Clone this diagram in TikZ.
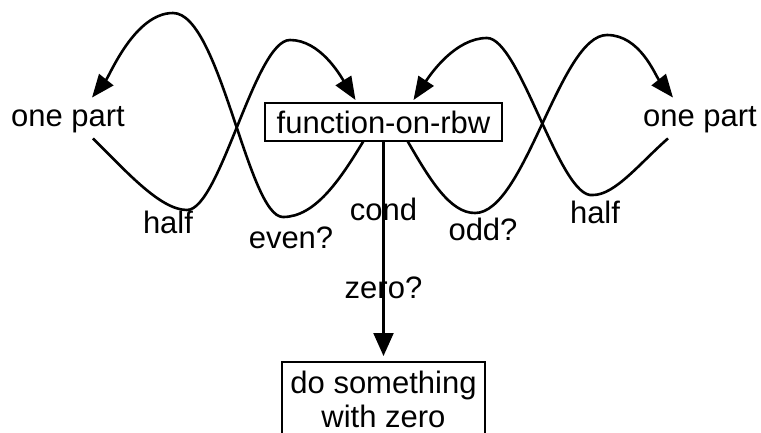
\documentclass[tikz,border=0pt]{standalone}
\usepackage{fontspec}
\setmainfont{Liberation Sans}
\usetikzlibrary{positioning}
\usetikzlibrary{arrows.meta}

\begin{document}
\begin{tikzpicture}[x=1pt,y=-1pt,
		every node/.style={font=\fontsize{31}{34}\selectfont},
		box/.style={draw, line width=2pt, inner sep=0pt},
		swing/.style={line width=2.6pt, -{Triangle[length=23pt,width=18pt]}}]
		%\draw[gray,step=20] (0,0) grid (761,432);
		\useasboundingbox (0,0) rectangle (761,432);
		\node[inner sep=0pt] (lpart) at (68,120) {one part};
		\node[box, minimum width=237pt, minimum height=38pt] (fn) at (383.5,122) {function-on-rbw};
		\node[inner sep=0pt] (rpart) at (700,120) {one part};
		\node[box, align=center, minimum width=203pt, minimum height=75pt, anchor=north,
			below=219pt of fn] (bot) {do something\\with zero};
		% left loops
		\draw[swing] ([xshift=-20pt,yshift=1pt]fn.south) .. controls (340,180) and (315,217) .. (283,217)
			node[xshift=8pt,yshift=-21pt] (even) {even?}
			.. controls (248,217) and (220,13) .. (173,13)
			.. controls (135,13) and (110,75) .. ([xshift=24pt,yshift=9pt]lpart.north);
		\draw[swing] ([xshift=25pt,yshift=-5pt]lpart.south) .. controls (125,170) and (160,210) .. (187,210)
			node[xshift=-19pt,yshift=-12pt] (lhalf) {half}
			.. controls (220,210) and (255,40) .. (290,40)
			.. controls (320,40) and (340,75) .. ([xshift=-28pt,yshift=2pt]fn.north);
		% right loops
		\draw[swing] ([xshift=24pt,yshift=1pt]fn.south) .. controls (430,180) and (450,213) .. (475,213)
			node[xshift=8pt,yshift=-16pt] (odd) {odd?}
			.. controls (525,213) and (560,35) .. (607,35)
			.. controls (640,35) and (655,75) .. ([xshift=-27pt,yshift=9pt]rpart.north);
		\draw[swing] ([xshift=-32pt,yshift=-5pt]rpart.south) .. controls (640,163) and (615,195) .. (593,195)
			node[xshift=2pt,yshift=-17pt] (rhalf) {half}
			.. controls (560,200) and (520,38) .. (487,38)
			.. controls (455,38) and (430,75) .. ([xshift=30pt,yshift=2pt]fn.north);
		% cond
		\draw[swing, line width=2.2pt, -{Triangle[length=23pt,width=20pt]}, shorten >=5pt] (fn.south) -- (bot.north)
			node[pos=0.31] (cond) {cond}
			node[pos=0.667] (zero) {zero?};
	\end{tikzpicture}
\end{document}
